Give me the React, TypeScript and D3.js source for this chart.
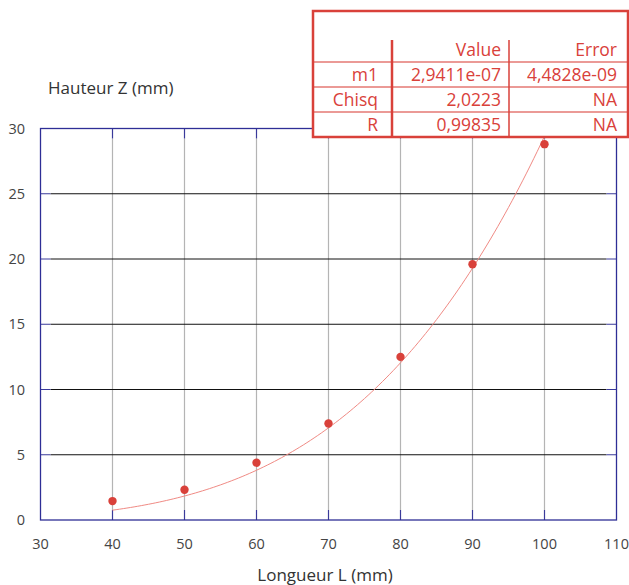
import React from 'react';
import * as d3 from 'd3';

// measured points
const lengths = [40, 50, 60, 70, 80, 90, 100];
const heights = [1.45, 2.32, 4.39, 7.4, 12.5, 19.6, 28.8];

const xTicks = [30, 40, 50, 60, 70, 80, 90, 100, 110];
const yTicks = [0, 5, 10, 15, 20, 25, 30];

// fit Z = m1 * L^4
const fitM1 = 2.9411e-7;
const fitRange = [40, 100];

const tableHead = ['', 'Value', 'Error'];
const tableRows = [
  ['m1', '2,9411e-07', '4,4828e-09'],
  ['Chisq', '2,0223', 'NA'],
  ['R', '0,99835', 'NA'],
];

const FONT = "'Open Sans', 'Noto Sans', sans-serif";
const RED = '#d9413a';

const App = () => {
  const W = 629, H = 585;
  const left = 40.5, right = 616.5, top = 128.5, bottom = 520;

  const x = d3.scaleLinear().domain([30, 110]).range([left, right]);
  const y = d3.scaleLinear().domain([0, 30]).range([bottom, top]);

  const curveXs = d3.range(fitRange[0], fitRange[1] + 0.01, 0.5);
  const line = d3.line<number>()
    .x(d => x(d))
    .y(d => y(fitM1 * Math.pow(d, 4)));

  const tick = 10;
  // table geometry
  const tx0 = 313, tx1 = 628, ty0 = 11;
  const colEdges = [tx0, 392, 509, tx1];
  const rowEdges = [ty0, 62, 87, 112, 137];
  const colRight = [378, 501, 617];

  return (
    <svg width={W} height={H} style={{ position: 'absolute', left: 0, top: 0 }}>
      <rect width={W} height={H} fill="#fff" />

      {/* vertical grid */}
      {xTicks.slice(1, -1).map(t => (
        <g key={'vx' + t}>
          <line x1={x(t)} x2={x(t)} y1={top + tick} y2={bottom - tick} stroke="#b4b4b4" strokeWidth={1.2} />
          <line x1={x(t)} x2={x(t)} y1={bottom - tick} y2={bottom} stroke="#3a3a9a" strokeWidth={1.2} />
          <line x1={x(t)} x2={x(t)} y1={top} y2={top + tick} stroke="#3a3a9a" strokeWidth={1.2} />
        </g>
      ))}
      {/* horizontal grid */}
      {yTicks.slice(1, -1).map(t => (
        <g key={'hy' + t}>
          <line x1={left + tick} x2={right - tick} y1={y(t)} y2={y(t)} stroke="#111" strokeWidth={1} />
          <line x1={left} x2={left + tick} y1={y(t)} y2={y(t)} stroke="#3a3a9a" strokeWidth={1} />
          <line x1={right - tick} x2={right} y1={y(t)} y2={y(t)} stroke="#3a3a9a" strokeWidth={1} />
        </g>
      ))}
      <rect x={left} y={top} width={right - left} height={bottom - top} fill="none" stroke="#2e2e96" strokeWidth={1.3} />

      {/* tick labels */}
      {yTicks.map(t => (
        <text key={'yl' + t} x={25} y={y(t)} dy="0.35em" textAnchor="end"
          fontFamily={FONT} fontSize={14.5} fill="#444">{t}</text>
      ))}
      {xTicks.map(t => (
        <text key={'xl' + t} x={x(t)} y={549} textAnchor="middle"
          fontFamily={FONT} fontSize={14.5} fill="#444">{t}</text>
      ))}

      <text x={48} y={94} fontFamily={FONT} fontSize={17} fill="#333">Hauteur Z (mm)</text>
      <text x={325} y={581} textAnchor="middle" fontFamily={FONT} fontSize={17} fill="#333">Longueur L (mm)</text>

      {/* fit curve */}
      <path d={line(curveXs) || ''} fill="none" stroke="#f08a84" strokeWidth={1} />

      {/* points */}
      {lengths.map((l, i) => (
        <circle key={'p' + l} cx={x(l)} cy={y(heights[i])} r={4.2} fill={RED} />
      ))}

      {/* fit table */}
      <rect x={tx0} y={ty0} width={tx1 - tx0} height={rowEdges[4] - ty0} fill="#fff" />
      {rowEdges.slice(1, -1).map(ry => (
        <line key={'r' + ry} x1={tx0} x2={tx1} y1={ry} y2={ry} stroke="#eb9a96" strokeWidth={2} />
      ))}
      {colEdges.slice(1, -1).map((cx, i) => (
        <line key={'c' + cx} x1={cx} x2={cx} y1={40} y2={rowEdges[4]}
          stroke={RED} strokeWidth={i === 0 ? 2.5 : 1.5} />
      ))}
      <rect x={tx0} y={ty0} width={tx1 - tx0} height={rowEdges[4] - ty0} fill="none" stroke={RED} strokeWidth={2.5} />
      {tableHead.map((h, i) => (
        <text key={'h' + i} x={colRight[i]} y={56} textAnchor="end"
          fontFamily={FONT} fontSize={17.5} fill={RED}>{h}</text>
      ))}
      {tableRows.map((row, r) => row.map((c, i) => (
        <text key={'t' + r + i} x={colRight[i]} y={rowEdges[r + 1] + 19} textAnchor="end"
          fontFamily={FONT} fontSize={17.5} fill={RED}>{c}</text>
      )))}
    </svg>
  );
};

export default App;
